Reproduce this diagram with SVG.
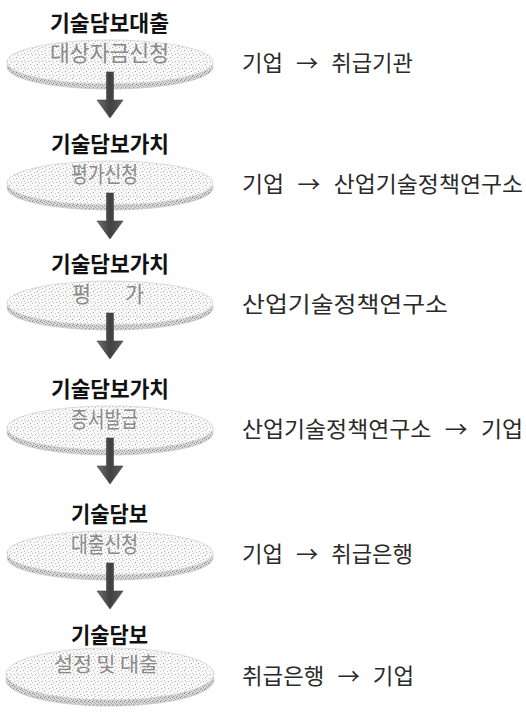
<svg xmlns="http://www.w3.org/2000/svg" width="526" height="719" viewBox="0 0 526 719">
<defs>
<pattern id="stip" width="7" height="7" patternUnits="userSpaceOnUse">
<rect width="7" height="7" fill="#f8f8f8"/>
<rect x="0" y="0" width="1" height="1" fill="#acacac"/>
<rect x="4" y="1" width="1" height="1" fill="#bcbcbc"/>
<rect x="2" y="3" width="1" height="1" fill="#a0a0a0"/>
<rect x="6" y="4" width="1" height="1" fill="#c4c4c4"/>
<rect x="3" y="6" width="1" height="1" fill="#b8b8b8"/>
</pattern>
<pattern id="rim" width="4" height="4" patternUnits="userSpaceOnUse">
<rect width="4" height="4" fill="#d6d6d6"/>
<rect x="0" y="0" width="1" height="1" fill="#848484"/>
<rect x="2" y="1" width="1" height="1" fill="#989898"/>
<rect x="1" y="3" width="1" height="1" fill="#8e8e8e"/>
<rect x="3" y="2" width="1" height="1" fill="#b4b4b4"/>
</pattern>
<linearGradient id="arr" x1="0" y1="0" x2="1" y2="0">
<stop offset="0" stop-color="#707070"/>
<stop offset="0.5" stop-color="#404040"/>
<stop offset="1" stop-color="#5e5e5e"/>
</linearGradient>
</defs>
<style>
.title{font-family:"Noto Sans CJK KR","Noto Sans",sans-serif;font-weight:bold;font-size:22px;fill:#111}
.sub{font-family:"Noto Sans CJK KR","Noto Sans",sans-serif;font-size:22px;fill:#8a8a8a}
.lbl{font-family:"Noto Sans CJK KR","Noto Sans",sans-serif;font-size:22px;fill:#2a2a2a;word-spacing:8px}
.rimE{fill:url(#rim);stroke:#c8c8c8;stroke-width:0.8}
.topE{fill:url(#stip);stroke:#d2d2d2;stroke-width:0.8}
.arrow{fill:url(#arr);stroke:#404040;stroke-width:0.6}
</style>
<rect width="526" height="719" fill="#fff"/>

<g id="step1" transform="translate(0,12)">
<ellipse class="rimE" cx="110" cy="55" rx="103" ry="22"/>
<ellipse class="topE" cx="110" cy="50" rx="103" ry="22"/>
<text class="title" x="50" y="19" textLength="119" lengthAdjust="spacingAndGlyphs">기술담보대출</text>
<text class="sub" x="50" y="49" textLength="119" lengthAdjust="spacingAndGlyphs">대상자금신청</text>
<text class="lbl" x="242" y="59" textLength="171" lengthAdjust="spacingAndGlyphs">기업 → 취급기관</text>
</g>

<g id="step2" transform="translate(0,133)">
<ellipse class="rimE" cx="110" cy="55" rx="103" ry="22"/>
<ellipse class="topE" cx="110" cy="50" rx="103" ry="22"/>
<text class="title" x="51" y="19" textLength="118" lengthAdjust="spacingAndGlyphs">기술담보가치</text>
<text class="sub" x="71" y="49" textLength="67" lengthAdjust="spacingAndGlyphs">평가신청</text>
<text class="lbl" x="242" y="59" textLength="281" lengthAdjust="spacingAndGlyphs">기업 → 산업기술정책연구소</text>
</g>

<g id="step3" transform="translate(0,253)">
<ellipse class="rimE" cx="110" cy="55" rx="103" ry="22"/>
<ellipse class="topE" cx="110" cy="50" rx="103" ry="22"/>
<text class="title" x="51" y="19" textLength="118" lengthAdjust="spacingAndGlyphs">기술담보가치</text>
<text class="sub" y="49"><tspan x="72" textLength="19" lengthAdjust="spacingAndGlyphs">평</tspan> <tspan x="125" textLength="19" lengthAdjust="spacingAndGlyphs">가</tspan></text>
<text class="lbl" x="242" y="59" textLength="206" lengthAdjust="spacingAndGlyphs">산업기술정책연구소</text>
</g>

<g id="step4" transform="translate(0,378)">
<ellipse class="rimE" cx="110" cy="55" rx="103" ry="22"/>
<ellipse class="topE" cx="110" cy="50" rx="103" ry="22"/>
<text class="title" x="51" y="19" textLength="118" lengthAdjust="spacingAndGlyphs">기술담보가치</text>
<text class="sub" x="71" y="49" textLength="67" lengthAdjust="spacingAndGlyphs">증서발급</text>
<text class="lbl" x="242" y="59" textLength="281" lengthAdjust="spacingAndGlyphs">산업기술정책연구소 → 기업</text>
</g>

<g id="step5" transform="translate(0,503)">
<ellipse class="rimE" cx="110" cy="55" rx="103" ry="22"/>
<ellipse class="topE" cx="110" cy="50" rx="103" ry="22"/>
<text class="title" x="71" y="19" textLength="77" lengthAdjust="spacingAndGlyphs">기술담보</text>
<text class="sub" x="71" y="49" textLength="67" lengthAdjust="spacingAndGlyphs">대출신청</text>
<text class="lbl" x="242" y="59" textLength="171" lengthAdjust="spacingAndGlyphs">기업 → 취급은행</text>
</g>

<g id="step6" transform="translate(0,625)">
<ellipse class="rimE" cx="110" cy="55" rx="104" ry="26"/>
<ellipse class="topE" cx="110" cy="49" rx="104" ry="26"/>
<text class="title" x="71" y="18" textLength="77" lengthAdjust="spacingAndGlyphs">기술담보</text>
<text class="sub" x="54" y="47" style="font-size:20px" textLength="104" lengthAdjust="spacingAndGlyphs">설정 및 대출</text>
<text class="lbl" x="242" y="59" textLength="172" lengthAdjust="spacingAndGlyphs">취급은행 → 기업</text>
</g>

<g id="connectors">
<polygon class="arrow" transform="translate(0,12)" points="106.5,60 113.5,60 113.5,88 123,88 110,106 97,88 106.5,88"/>
<polygon class="arrow" transform="translate(0,133)" points="106.5,60 113.5,60 113.5,88 123,88 110,106 97,88 106.5,88"/>
<polygon class="arrow" transform="translate(0,253)" points="106.5,60 113.5,60 113.5,88 123,88 110,106 97,88 106.5,88"/>
<polygon class="arrow" transform="translate(0,378)" points="106.5,60 113.5,60 113.5,88 123,88 110,106 97,88 106.5,88"/>
<polygon class="arrow" transform="translate(0,503)" points="106.5,60 113.5,60 113.5,88 123,88 110,106 97,88 106.5,88"/>
</g>
</svg>
